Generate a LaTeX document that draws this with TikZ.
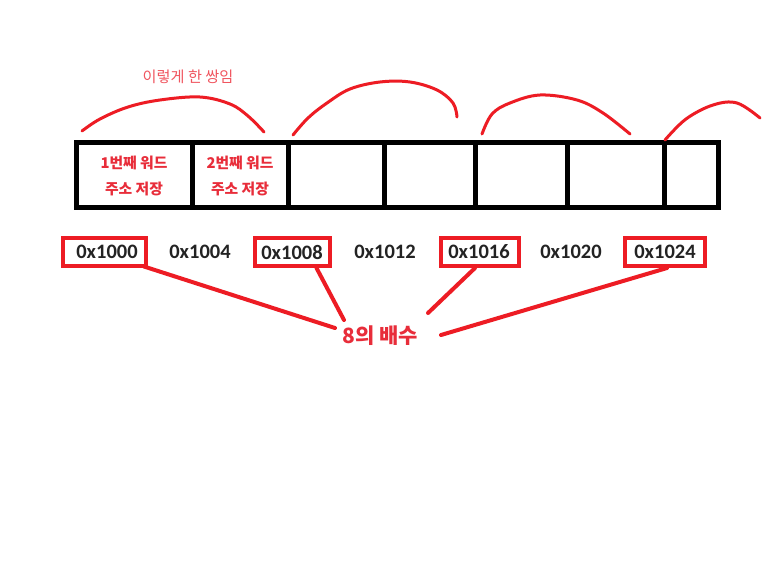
\documentclass[tikz,border=0pt]{standalone}
\usepackage{fontspec}
\setmainfont{Carlito}
\newfontfamily\kr{Noto Sans CJK KR}
\usetikzlibrary{calc}
\definecolor{pen}{RGB}{237,28,36}
\definecolor{txtred}{RGB}{232,45,58}
\definecolor{lightred}{RGB}{240,85,95}
\definecolor{addr}{RGB}{35,35,35}
\tikzset{
  cell/.style={draw=black, line width=5pt, inner sep=0pt, minimum height=65pt},
  celltext/.style={text=txtred, font=\kr\bfseries\fontsize{14.8}{26}\selectfont, align=center},
  address/.style={text=addr, font=\bfseries\fontsize{20.5}{22}\selectfont, inner sep=0pt},
  hlbox/.style={draw=pen, line width=4pt, inner sep=0pt, minimum height=28pt},
  marker/.style={draw=pen, line width=4pt, line cap=round},
  arc/.style={draw=pen, line width=3pt, line cap=round, line join=round}
}
\begin{document}
\begin{tikzpicture}[x=1pt,y=-1pt]
\useasboundingbox[fill=white] (0,0) rectangle (768,581);
% memory cells
\node[cell, minimum width=116pt] (c1) at (134,174.5) {};
\node[cell, minimum width=96pt]  (c2) at (240,174.5) {};
\node[cell, minimum width=96pt]  (c3) at (336,174.5) {};
\node[cell, minimum width=91pt]  (c4) at (429.5,174.5) {};
\node[cell, minimum width=92pt]  (c5) at (521,174.5) {};
\node[cell, minimum width=97pt]  (c6) at (615.5,174.5) {};
\node[cell, minimum width=54pt]  (c7) at (691,174.5) {};
\node[celltext] (t1) at (134,176) {1번째 워드\\주소 저장};
\node[celltext] (t2) at (240,176) {2번째 워드\\주소 저장};
% pair label
\node[text=lightred, font=\kr\fontsize{15.2}{17}\selectfont] (pair) at (188,77) {이렇게 한 쌍임};
% hand-drawn arcs
\draw[arc] plot[smooth, tension=0.6] coordinates {(82,131) (100,119) (128,107) (160,100) (200,97) (230,104) (248,116) (264,132)};
\draw[arc] plot[smooth, tension=0.6] coordinates {(293,135) (308,118) (327,103) (350,89) (380,82) (410,82) (437,90) (453,103) (457,117)};
\draw[arc] plot[smooth, tension=0.6] coordinates {(482,134) (492,114) (510,103) (540,95) (577,100) (603,113) (630,134)};
\draw[arc] plot[smooth, tension=0.6] coordinates {(665,140) (686,119) (713,105) (737,103) (760,118)};
% addresses
\node[address] (a0) at (107,252) {0x1000};
\node[address] (a1) at (200,252) {0x1004};
\node[address] (a2) at (292,252) {0x1008};
\node[address] (a3) at (385,252) {0x1012};
\node[address] (a4) at (479,252) {0x1016};
\node[address] (a5) at (571,252) {0x1020};
\node[address] (a6) at (665,252) {0x1024};
% highlight boxes
\node[hlbox, minimum width=83pt] (b0) at (104.5,251.5) {};
\node[hlbox, minimum width=75pt] (b1) at (292.5,252) {};
\node[hlbox, minimum width=78pt] (b2) at (480,252) {};
\node[hlbox, minimum width=80pt] (b3) at (665,252) {};
% label
\node[text=txtred, font=\kr\bfseries\fontsize{21}{23}\selectfont] (m) at (380,336) {8의 배수};
% connector ends
\coordinate (e0) at (335,328);
\coordinate (e1) at (344,320);
\coordinate (e2) at (428,313);
\coordinate (e3) at (441,335);
\coordinate (s0) at ($(b0.south east)+(-4,-1)$);
\coordinate (s1) at ($(b1.south)+(24,0)$);
\coordinate (s2) at ($(b2.south)+(-5,0)$);
\coordinate (s3) at ($(b3.south)+(2,0)$);
\draw[marker] (s0) -- (e0);
\draw[marker] (s1) -- (e1);
\draw[marker] (s2) -- (e2);
\draw[marker] (s3) -- (e3);
\end{tikzpicture}
\end{document}
